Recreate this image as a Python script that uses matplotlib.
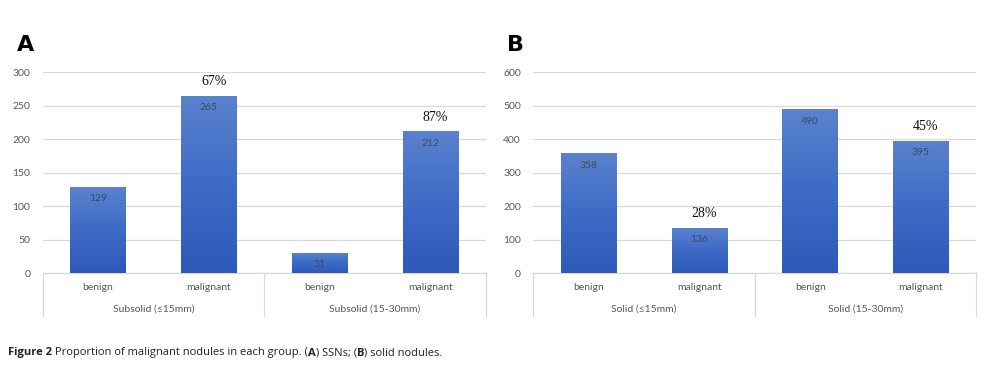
import numpy as np
import matplotlib
matplotlib.use("Agg")
import matplotlib.pyplot as plt
from matplotlib.colors import LinearSegmentedColormap

# ---- data ----
bar_labels = ["benign", "malignant", "benign", "malignant"]
groups_A = ["Subsolid (\u226415mm)", "Subsolid (15-30mm)"]
values_A = [129, 265, 31, 212]
pct_A = ["", "67%", "", "87%"]
groups_B = ["Solid (\u226415mm)", "Solid (15-30mm)"]
values_B = [358, 136, 490, 395]
pct_B = ["", "28%", "", "45%"]
yticks_A = [0, 50, 100, 150, 200, 250, 300]
yticks_B = [0, 100, 200, 300, 400, 500, 600]

plt.rcParams['font.family'] = ['Lato', 'DejaVu Sans']

W, H = 1001, 374
fig = plt.figure(figsize=(W / 100, H / 100), dpi=100)
fig.patch.set_facecolor('white')

cmap = LinearSegmentedColormap.from_list('g', ['#2d5ab8', '#3d6bc6', '#5b82cd'])
grid_c = '#d9d9d9'
tick_c = '#595959'


def panel(left_px, values, pcts, groups, yticks, letter, letter_x):
    ax = fig.add_axes([left_px / W, 1 - 273.3 / H, 443 / W, 201 / H])
    x = np.arange(len(values))
    bars = ax.bar(x, values, width=0.5, color='none', edgecolor='none', zorder=3)
    grad = np.linspace(0, 1, 256).reshape(-1, 1)
    for b in bars:
        x0, y0 = b.get_x(), b.get_y()
        w, h = b.get_width(), b.get_height()
        im = ax.imshow(grad, extent=[x0, x0 + w, y0, y0 + h], origin='lower',
                       cmap=cmap, aspect='auto', zorder=3)
        im.set_clip_path(b)
    ax.set_xlim(-0.5, len(values) - 0.5)
    ax.set_ylim(yticks[0], yticks[-1])
    ax.set_yticks(yticks)
    ax.set_yticklabels([str(t) for t in yticks], fontsize=7.5, color=tick_c)
    ax.tick_params(axis='y', length=0, pad=9)
    ax.set_xticks([])
    ax.grid(axis='y', color=grid_c, linewidth=0.9, zorder=0)
    ax.set_axisbelow(True)
    for s in ['top', 'right', 'left']:
        ax.spines[s].set_visible(False)
    ax.spines['bottom'].set_color(grid_c)
    ax.spines['bottom'].set_linewidth(0.9)
    for i, v in enumerate(values):
        ax.annotate(str(v), (x[i], v), xytext=(0, -12), textcoords='offset points'
                    if False else 'offset pixels', ha='center', va='center',
                    fontsize=7.5, color='#404a60', zorder=5)
        if pcts[i]:
            ax.annotate(pcts[i], (x[i], v), xytext=(5, 14), textcoords='offset pixels',
                        ha='center', va='center', fontsize=10,
                        family='Liberation Serif', color='#111111', zorder=5,
                        annotation_clip=False)
    # category box below axis
    yb = -(316 - 273.3) / 201
    for xf in [0, 0.5, 1]:
        ax.plot([xf, xf], [0, yb], transform=ax.transAxes, color=grid_c,
                lw=0.9, clip_on=False)
    trans = ax.get_xaxis_transform()
    lab_y = -(287.7 - 273.3) / 201
    grp_y = -(308.7 - 273.3) / 201
    for i, lab in enumerate(bar_labels):
        ax.text(x[i], lab_y, lab, transform=trans, ha='center', va='center',
                fontsize=7.5, color=tick_c)
    for j, g in enumerate(groups):
        ax.text(0.5 + 2 * j, grp_y, g, transform=trans, ha='center', va='center',
                fontsize=7.5, color=tick_c)
    fig.text(letter_x / W, 1 - 45 / H, letter, fontsize=16, fontweight='bold',
             ha='left', va='center', family='DejaVu Sans')
    return ax


panel(42.7, values_A, pct_A, groups_A, yticks_A, 'A', 17)
panel(533.3, values_B, pct_B, groups_B, yticks_B, 'B', 507)

# caption with mixed weights
pieces = [("Figure 2", 'bold'), (" Proportion of malignant nodules in each group. (", 'normal'),
          ("A", 'bold'), (") SSNs; (", 'normal'), ("B", 'bold'), (") solid nodules.", 'normal')]
fig.canvas.draw()
r = fig.canvas.get_renderer()
xpos = 8
for txt, wt in pieces:
    t = fig.text(xpos / W, 1 - 353 / H, txt, fontsize=8, fontweight=wt,
                 ha='left', va='center', color='#222222', family='Open Sans')
    bb = t.get_window_extent(renderer=r)
    xpos += bb.width

fig.savefig('out.png', dpi=100, facecolor='white')
